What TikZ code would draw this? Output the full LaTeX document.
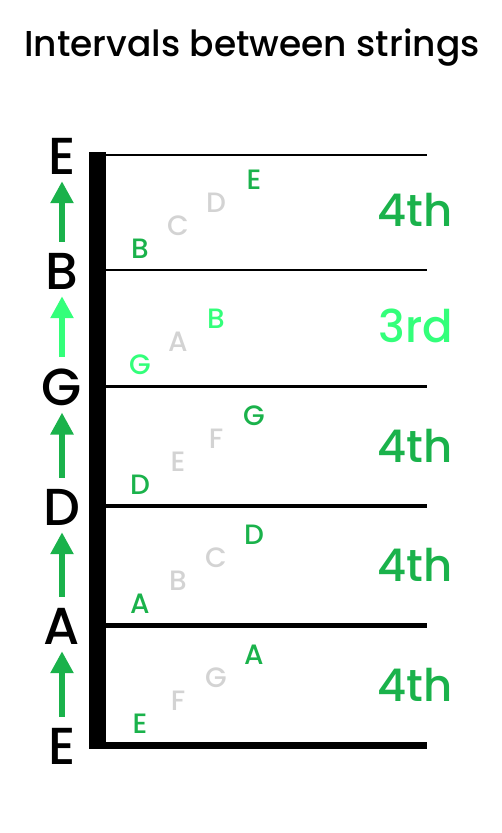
\documentclass[tikz,border=0pt]{standalone}
\usepackage{fontspec}
\setmainfont{Poppins Medium}
\usetikzlibrary{arrows.meta}
\definecolor{fourth}{HTML}{1AB24B}
\definecolor{third}{HTML}{33FF7A}
\definecolor{passing}{HTML}{D3D3D3}
\tikzset{
    title/.style={font=\fontsize{36}{36}\selectfont, anchor=base, inner sep=0pt},
    string name/.style={font=\fontsize{52}{52}\selectfont, anchor=base, inner sep=0pt},
    note/.style={font=\fontsize{28}{28}\selectfont, anchor=base, inner sep=0pt},
    interval/.style={font=\fontsize{45}{45}\selectfont, anchor=base east, inner sep=0pt},
    jump/.style={line width=6pt, -{Triangle[width=22pt,length=22pt]}, shorten <=11pt, shorten >=7pt}
}

\begin{document}
\begin{tikzpicture}[x=1pt, y=-1pt]
    \useasboundingbox (0,0) rectangle (501,833);
    \node[title] (title) at (252,56) {Intervals between strings};

    % strings, high E at the top
    \foreach \name/\y/\w [count=\i] in {E/155/2, B/270/2.5, G/386/3, D/506/4, A/625/5, E/745/7} {
        \draw[line width=\w pt] (98,\y) -- (427,\y);
        \node[string name] (str\i) at (62,\y+19) {\name};
    }
    % nut
    \fill (89,152) rectangle (106,749);

    % arrows between the string names
    \draw[jump, fourth] (str2.north) -- (str1.south);
    \draw[jump, third] (str3.north) -- (str2.south);
    \draw[jump, fourth] (str4.north) -- (str3.south);
    \draw[jump, fourth] (str5.north) -- (str4.south);
    \draw[jump, fourth] (str6.north) -- (str5.south);

    % notes climbing from one string to the next
    \foreach \yb/\lab/\col/\notes [count=\s] in {
        270/4th/fourth/{B/fourth,C/passing,D/passing,E/fourth},
        386/3rd/third/{G/third,A/passing,B/third},
        506/4th/fourth/{D/fourth,E/passing,F/passing,G/fourth},
        625/4th/fourth/{A/fourth,B/passing,C/passing,D/fourth},
        745/4th/fourth/{E/fourth,F/passing,G/passing,A/fourth}} {
        \node[interval, text=\col] (iv\s) at (453,\yb-44) {\lab};
        \foreach \n/\c [count=\k] in \notes
            \node[note, text=\c] (note\s-\k) at ({140+38*(\k-1)}, {\yb-12-23*(\k-1)}) {\n};
    }
\end{tikzpicture}
\end{document}
